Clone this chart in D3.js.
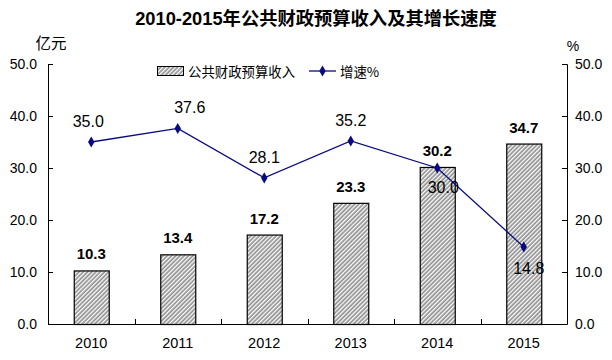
<!DOCTYPE html>
<html><head><meta charset="utf-8">
<script src="https://cdn.jsdelivr.net/npm/d3@7"></script>
<style>body{margin:0;background:#fff}svg{display:block;font-family:"Liberation Sans",Arial,"Noto Sans CJK SC",sans-serif}</style>
</head><body><svg id="c" width="612" height="360"></svg>
<script>
const years = ["2010","2011","2012","2013","2014","2015"];
const revenue = [10.3,13.4,17.2,23.3,30.2,34.7];
const growth = [35.0,37.6,28.1,35.2,30.0,14.8];
const yTicks = [0,10,20,30,40,50];
const title = "2010-2015年公共财政预算收入及其增长速度";
const seriesNames = ["公共财政预算收入","增速%"];

const svg = d3.select("#c");
const L=48, R=567, T=64, B=324;
const x = d3.scaleBand().domain(years).range([L,R]);
const yL = d3.scaleLinear().domain([0,50]).range([B,T]);
const yR = d3.scaleLinear().domain([0,50]).range([B,T]);
const navy = "#0a0a80";

const defs = svg.append("defs");
const pat = defs.append("pattern").attr("id","hatch").attr("patternUnits","userSpaceOnUse")
  .attr("width",3).attr("height",3).attr("patternTransform","rotate(45)");
pat.append("rect").attr("width",3).attr("height",3).attr("fill","#909090");
pat.append("rect").attr("width",1.3).attr("height",3).attr("fill","#ffffff");

svg.append("text").attr("x",316).attr("y",25).attr("text-anchor","middle")
  .attr("font-size",18.3).attr("font-weight","bold").attr("fill","#000").text(title);

// axes
const axL = svg.append("g").attr("transform",`translate(${L},0)`)
  .call(d3.axisRight(yL).tickValues(yTicks).tickFormat(d3.format(".1f")).tickSize(5));
axL.selectAll("text").attr("x",-11).attr("text-anchor","end");
const axR = svg.append("g").attr("transform",`translate(${R},0)`)
  .call(d3.axisLeft(yR).tickValues(yTicks).tickFormat(d3.format(".1f")).tickSize(5));
axR.selectAll("text").attr("x",8).attr("text-anchor","start");
[axL,axR].forEach(a=>{a.select(".domain").attr("stroke","#000");a.selectAll("line").attr("stroke","#000");
  a.selectAll("text").attr("font-size",14).attr("fill","#000").attr("font-family","Liberation Sans, Arial");});

// x axis
const gx = svg.append("g");
gx.append("line").attr("x1",L).attr("x2",R).attr("y1",B+0.5).attr("y2",B+0.5).attr("stroke","#000");
gx.selectAll("line.t").data(years.slice(1)).join("line").attr("class","t")
  .attr("x1",d=>Math.round(x(d))+0.5).attr("x2",d=>Math.round(x(d))+0.5).attr("y1",B).attr("y2",B-5).attr("stroke","#000");
gx.selectAll("text").data(years).join("text").attr("x",d=>x(d)+x.bandwidth()/2).attr("y",B+24)
  .attr("text-anchor","middle").attr("font-size",14.5).attr("fill","#000").text(d=>d);

svg.append("text").attr("x",51).attr("y",49).attr("text-anchor","middle").attr("font-size",15.5)
  .attr("font-family","Noto Sans CJK SC").text("亿元");
svg.append("text").attr("x",573).attr("y",51).attr("text-anchor","middle").attr("font-size",14).text("%");

// bars
const bw = 35;
svg.append("g").selectAll("rect").data(revenue).join("rect")
  .attr("x",(d,i)=>x(years[i])+x.bandwidth()/2-bw/2+0.5).attr("width",bw)
  .attr("y",d=>yL(d)+0.5).attr("height",d=>B-yL(d))
  .attr("fill","url(#hatch)").attr("stroke","#000").attr("stroke-width",1.2);
svg.append("g").selectAll("text").data(revenue).join("text")
  .attr("x",(d,i)=>x(years[i])+x.bandwidth()/2).attr("y",d=>yL(d)-11)
  .attr("text-anchor","middle").attr("font-size",15).attr("font-weight","bold").text(d=>d.toFixed(1));

// line
const cx = i=>x(years[i])+x.bandwidth()/2;
svg.append("path").datum(growth).attr("fill","none").attr("stroke",navy).attr("stroke-width",1.3)
  .attr("d",d3.line().x((d,i)=>cx(i)).y(d=>yR(d)));
svg.append("g").selectAll("path").data(growth).join("path")
  .attr("transform",(d,i)=>`translate(${cx(i)},${yR(d)})`)
  .attr("d",d3.symbol(d3.symbolDiamond,36)).attr("fill",navy);
const dxs = {0:-3,1:12,4:6,5:5};
svg.append("g").selectAll("text").data(growth).join("text")
  .attr("x",(d,i)=>cx(i)+(dxs[i]||0))
  .attr("y",(d,i)=>yR(d)+(i===4?25:i===5?27:-15))
  .attr("text-anchor","middle").attr("font-size",16).attr("fill","#000").text(d=>d.toFixed(1));

// legend
const lg = svg.append("g");
lg.append("rect").attr("x",157.5).attr("y",66.5).attr("width",26).attr("height",9).attr("fill","url(#hatch)").attr("stroke","#000");
lg.append("text").attr("x",188).attr("y",76.5).attr("font-size",13.4).attr("font-family","Noto Sans CJK SC").text(seriesNames[0]);
lg.append("line").attr("x1",309).attr("x2",336).attr("y1",71).attr("y2",71).attr("stroke",navy).attr("stroke-width",1.3);
lg.append("path").attr("transform","translate(322.5,71)").attr("d",d3.symbol(d3.symbolDiamond,36)).attr("fill",navy);
lg.append("text").attr("x",340).attr("y",76.5).attr("font-size",13.4).attr("font-family","Noto Sans CJK SC").text(seriesNames[1]);
</script></body></html>
